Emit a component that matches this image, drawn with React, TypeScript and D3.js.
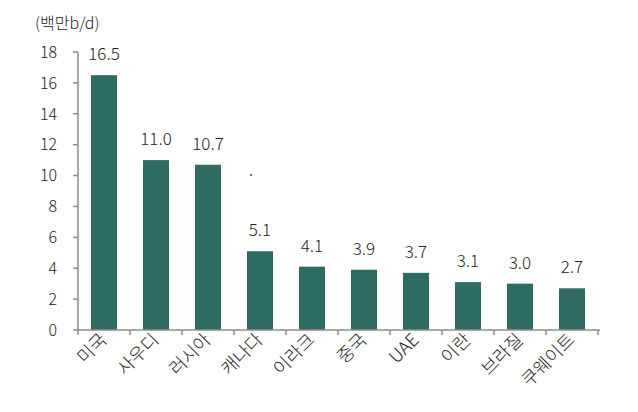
import React from "react";
import * as d3 from "d3";

const categories = ["미국", "사우디", "러시아", "캐나다", "이라크", "중국", "UAE", "이란", "브라질", "쿠웨이트"];
const values = [16.5, 11.0, 10.7, 5.1, 4.1, 3.9, 3.7, 3.1, 3.0, 2.7];
const yTicks = [0, 2, 4, 6, 8, 10, 12, 14, 16, 18];
const unitLabel = "(백만b/d)";

export default function App() {
  const W = 638, H = 412;
  const left = 78, right = 598, top = 52, bottom = 330;
  const x = d3.scaleBand<string>().domain(categories).range([left, right]).paddingInner(0.5).paddingOuter(0.25);
  const y = d3.scaleLinear().domain([0, 18]).range([bottom, top]);
  const font = "'Noto Sans CJK KR', 'Noto Sans', sans-serif";
  const axisColor = "#8c8c8c";
  const step = (right - left) / categories.length;
  return (
    <svg width={W} height={H} style={{ position: "absolute", left: 0, top: 0, background: "#fff" }} fontFamily={font}>
      <text x={35} y={29} fontSize={16} fill="#222" fontWeight={300}>{unitLabel}</text>
      {/* y axis */}
      <line x1={left} x2={left} y1={y(18)} y2={bottom} stroke={axisColor} strokeWidth={1.5} />
      {yTicks.map((t) => (
        <g key={t}>
          <line x1={left - 5} x2={left} y1={y(t)} y2={y(t)} stroke={axisColor} strokeWidth={1.5} />
          <text x={57} y={y(t)} dy="0.36em" textAnchor="end" fontSize={16} fill="#222" fontWeight={300}>{t}</text>
        </g>
      ))}
      {/* bars */}
      {categories.map((c, i) => (
        <rect key={c} x={x(c)} y={y(values[i])} width={x.bandwidth()} height={bottom - y(values[i])} fill="#2e6b63" />
      ))}
      {/* value labels */}
      {categories.map((c, i) => (
        <text key={c} x={(x(c) as number) + x.bandwidth() / 2} y={y(values[i]) - 15} textAnchor="middle" fontSize={17} fill="#222" fontWeight={300}>
          {values[i].toFixed(1)}
        </text>
      ))}
      {/* x axis */}
      <line x1={left} x2={right + 2} y1={bottom} y2={bottom} stroke={axisColor} strokeWidth={1.5} />
      {d3.range(categories.length + 1).map((k) => (
        <line key={k} x1={left + k * step} x2={left + k * step} y1={bottom} y2={bottom + 5} stroke={axisColor} strokeWidth={1.5} />
      ))}
      {categories.map((c) => {
        const cx = (x(c) as number) + x.bandwidth() / 2 + 4;
        return (
          <text key={c} transform={`translate(${cx},${bottom + 11}) rotate(-45)`} textAnchor="end" fontSize={18} fill="#222" fontWeight={300}>
            {c}
          </text>
        );
      })}
      <circle cx={251} cy={175} r={1} fill="#2233cc" />
    </svg>
  );
}
